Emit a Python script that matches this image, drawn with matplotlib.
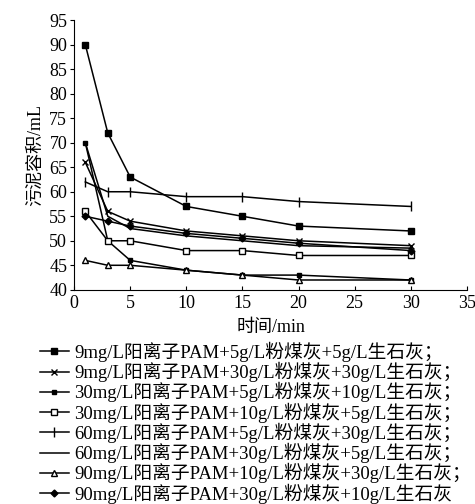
import matplotlib.pyplot as plt

plt.rcParams['font.family'] = ['Liberation Serif', 'Noto Sans CJK SC']
plt.rcParams['axes.unicode_minus'] = False

# time points (min)
t = [1, 3, 5, 10, 15, 20, 30]

# sludge volume (mL) for each dosing scheme
s1 = [90, 72, 63, 57, 55, 53, 52]
s2 = [66, 56, 54, 52, 51, 50, 49]
s3 = [70, 50, 46, 44, 43, 43, 42]
s4 = [56, 50, 50, 48, 48, 47, 47]
s5 = [62, 60, 60, 59, 59, 58, 57]
s6 = [70, 55, 52.5, 51, 50, 49, 48.5]
s7 = [46, 45, 45, 44, 43, 42, 42]
s8 = [55, 54, 53, 51.5, 50.5, 49.5, 48]

labels = [
    "9mg/L阳离子PAM+5g/L粉煤灰+5g/L生石灰；",
    "9mg/L阳离子PAM+30g/L粉煤灰+30g/L生石灰；",
    "30mg/L阳离子PAM+5g/L粉煤灰+10g/L生石灰；",
    "30mg/L阳离子PAM+10g/L粉煤灰+5g/L生石灰；",
    "60mg/L阳离子PAM+5g/L粉煤灰+30g/L生石灰；",
    "60mg/L阳离子PAM+30g/L粉煤灰+5g/L生石灰；",
    "90mg/L阳离子PAM+10g/L粉煤灰+30g/L生石灰；",
    "90mg/L阳离子PAM+30g/L粉煤灰+10g/L生石灰",
]

series = [s1, s2, s3, s4, s5, s6, s7, s8]
styles = [
    dict(marker='s', ms=5, mfc='black'),
    dict(marker='x', ms=5),
    dict(marker='s', ms=3.5, mfc='black'),
    dict(marker='s', ms=5, mfc='white'),
    dict(marker='|', ms=7),
    dict(marker=None),
    dict(marker='^', ms=5, mfc='white'),
    dict(marker='D', ms=3.5, mfc='black'),
]

fig = plt.figure(figsize=(4.75, 5.04), dpi=100)
ax = fig.add_axes([0.156, 0.425, 0.827, 0.535])

for ys, lab, st in zip(series, labels, styles):
    ax.plot(t, ys, color='black', lw=1.1, mec='black', label=lab, **st)

ax.set_xlim(0, 35)
ax.set_ylim(40, 95)
ax.set_xticks(range(0, 36, 5))
ax.set_yticks(range(40, 96, 5))
ax.spines['top'].set_visible(False)
ax.spines['right'].set_visible(False)
ax.tick_params(axis='y', direction='out', length=3, labelsize=13, pad=2)
ax.tick_params(axis='x', direction='in', length=3, labelsize=13, pad=4)
ax.set_xlabel("时间/min", fontsize=13, labelpad=5)
ax.set_ylabel("污泥容积/mL", fontsize=13, labelpad=4)

handles, labs = ax.get_legend_handles_labels()
fig.legend(handles, labs, loc='upper left', bbox_to_anchor=(0.085, 0.322),
           frameon=False, fontsize=13.5, handlelength=1.5, handletextpad=0.3,
           labelspacing=0.0, borderpad=0, borderaxespad=0)

fig.savefig('out.png', dpi=100)
